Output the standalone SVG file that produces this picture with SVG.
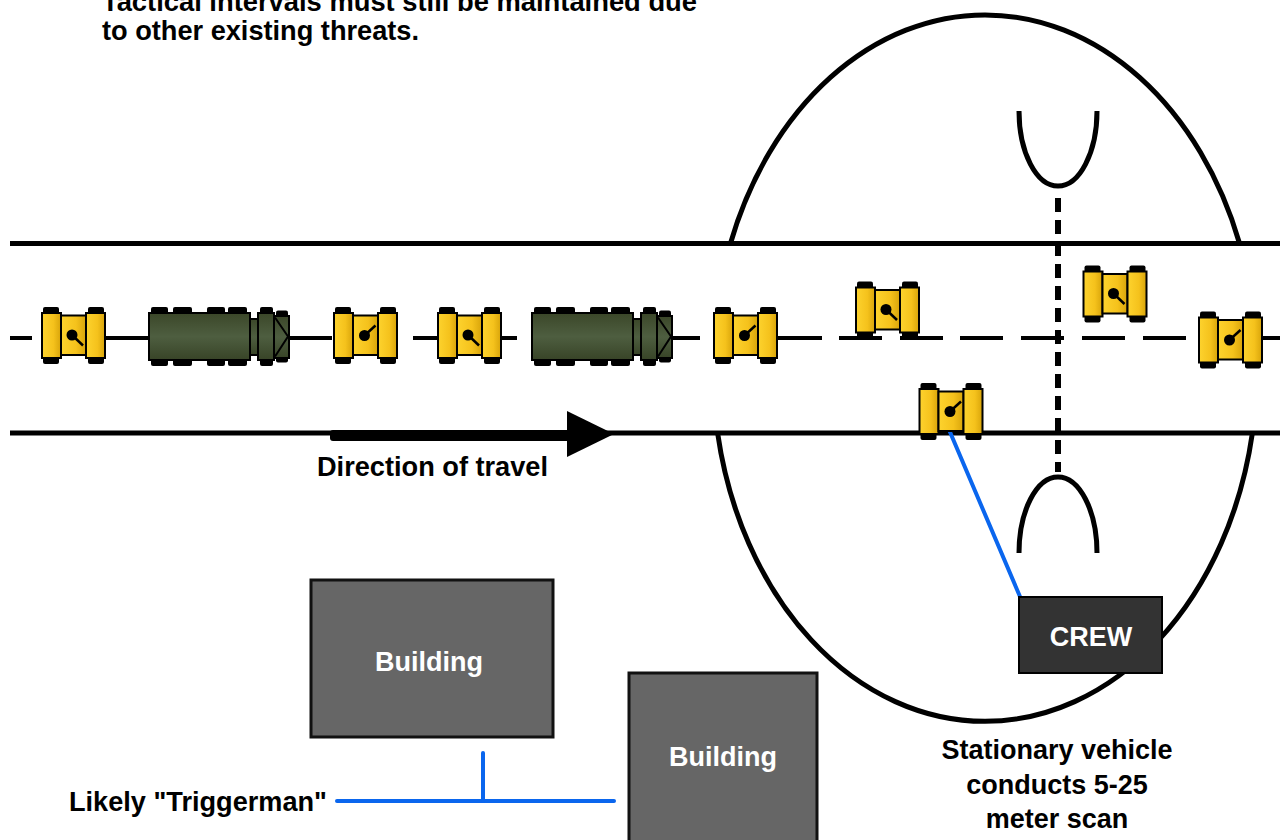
<svg xmlns="http://www.w3.org/2000/svg" xmlns:xlink="http://www.w3.org/1999/xlink" width="1280" height="840" viewBox="0 0 1280 840">
  <style>
    .txt { font-family: "Liberation Sans", Arial, sans-serif; font-weight: bold; font-size: 27px; fill: #000; }
    .ntxt { font-size: 28px; }
    .wtxt { fill: #fff; }
    .road { stroke: #000; stroke-width: 5; fill: none; }
    .cl { stroke: #000; stroke-width: 4; fill: none; }
    .arc { stroke: #000; stroke-width: 5; fill: none; }
    .blue { stroke: #0a66ee; stroke-width: 4; fill: none; stroke-linecap: round; }
    .bldg { fill: #666; stroke: #111; stroke-width: 3; }
    .wheel { fill: #000; }
    .trk { fill: url(#yl); stroke: #000; stroke-width: 2; }
    .tk { fill: url(#gr); stroke: #000; stroke-width: 2; }
  </style>
  <defs>
    <linearGradient id="yl" x1="0" y1="0" x2="1" y2="0">
      <stop offset="0" stop-color="#fdd32e"/>
      <stop offset="0.6" stop-color="#f5c21c"/>
      <stop offset="1" stop-color="#d8a40a"/>
    </linearGradient>
    <linearGradient id="gr" x1="0" y1="0" x2="0" y2="1">
      <stop offset="0" stop-color="#3b4729"/>
      <stop offset="0.5" stop-color="#4e5e40"/>
      <stop offset="1" stop-color="#384427"/>
    </linearGradient>
    <!-- small tracked vehicle, centred on 0,0 -->
    <g id="veh-base">
      <rect class="wheel" x="-30.5" y="-28.5" width="16" height="8" rx="2"/>
      <rect class="wheel" x="14.5" y="-28.5" width="16" height="8" rx="2"/>
      <rect class="wheel" x="-30.5" y="20.5" width="16" height="8" rx="2"/>
      <rect class="wheel" x="14.5" y="20.5" width="16" height="8" rx="2"/>
      <rect class="trk" x="-31.5" y="-22.5" width="19" height="45"/>
      <rect class="trk" x="-12.5" y="-20" width="25" height="39.5"/>
      <rect class="trk" x="12.5" y="-22.5" width="19" height="45"/>
    </g>
    <g id="veh-down">
      <use xlink:href="#veh-base"/>
      <line x1="-1.5" y1="-0.5" x2="9.5" y2="10" stroke="#000" stroke-width="2.5"/>
      <circle cx="-1.5" cy="-0.5" r="5.5" fill="#000"/>
    </g>
    <g id="veh-up">
      <use xlink:href="#veh-base"/>
      <line x1="-1" y1="0" x2="10" y2="-10" stroke="#000" stroke-width="2.5"/>
      <circle cx="-1" cy="0" r="5.5" fill="#000"/>
    </g>
    <!-- cargo truck, left edge at x=0, centred vertically on 0 -->
    <g id="truck">
      <rect class="wheel" x="2" y="-29.5" width="17" height="8" rx="2"/>
      <rect class="wheel" x="24" y="-29.5" width="19" height="8" rx="2"/>
      <rect class="wheel" x="58" y="-29.5" width="18" height="8" rx="2"/>
      <rect class="wheel" x="79" y="-29.5" width="19" height="8" rx="2"/>
      <rect class="wheel" x="2" y="21.5" width="17" height="8" rx="2"/>
      <rect class="wheel" x="24" y="21.5" width="19" height="8" rx="2"/>
      <rect class="wheel" x="58" y="21.5" width="18" height="8" rx="2"/>
      <rect class="wheel" x="79" y="21.5" width="19" height="8" rx="2"/>
      <rect class="wheel" x="111" y="-29.5" width="13" height="8" rx="2"/>
      <rect class="wheel" x="111" y="21.5" width="13" height="8" rx="2"/>
      <rect class="wheel" x="127" y="-26" width="12" height="7" rx="2"/>
      <rect class="wheel" x="127" y="19" width="12" height="7" rx="2"/>
      <rect class="tk" x="0" y="-23.5" width="101" height="47"/>
      <rect class="tk" x="101" y="-17.5" width="8" height="36"/>
      <rect class="tk" x="109" y="-23.5" width="16" height="47"/>
      <rect class="tk" x="125" y="-20.5" width="15" height="42"/>
      <path d="M126,-19 L139,0 L126,20" fill="none" stroke="#000" stroke-width="2"/>
    </g>
  </defs>

  <rect width="1280" height="840" fill="#fff"/>

  <!-- heading note -->
  <g id="note">
    <text class="txt ntxt" x="102" y="11" textLength="595" lengthAdjust="spacingAndGlyphs">Tactical intervals must still be maintained due</text>
    <text class="txt ntxt" x="102" y="40" textLength="317" lengthAdjust="spacingAndGlyphs">to other existing threats.</text>
  </g>

  <!-- 5-25 m scan area -->
  <g id="scan-area">
    <path class="arc" d="M730.6,243 A272,353 0 0 1 1239.4,243"/>
    <path class="arc" d="M717.6,433 A272,353 0 0 0 1252.4,433"/>
  </g>

  <!-- cross-road and its kerb curves -->
  <g id="cross-road">
    <path class="arc" d="M1019,111 A39,75 0 0 0 1097,111"/>
    <path class="arc" d="M1019,553 A39,76 0 0 1 1097,553"/>
    <line x1="1058" y1="198" x2="1058" y2="472" stroke="#000" stroke-width="6" stroke-dasharray="14 8"/>
  </g>

  <!-- road edges -->
  <g id="road">
    <line class="road" x1="10" y1="243.5" x2="1280" y2="243.5"/>
    <line class="road" x1="10" y1="433" x2="1280" y2="433"/>
  </g>

  <!-- centre line and links -->
  <g id="connectors">
    <path class="cl" d="M10,338 H32 M106,338 H149 M290,338 H332 M413,338 H437 M502,338 H517 M673,338 H700 M778,338 H822 M839,338 H882 M900,338 H943 M960,338 H1003 M1021,338 H1064 M1082,338 H1125 M1143,338 H1186 M1263,338 H1280"/>
    <line class="blue" x1="950" y1="432" x2="1021" y2="599"/>
    <line class="blue" x1="337" y1="801" x2="614" y2="801"/>
    <line class="blue" x1="483" y1="753" x2="483" y2="801"/>
  </g>

  <!-- convoy -->
  <g id="v1"><use xlink:href="#veh-down" x="73.5" y="335.5"/></g>
  <g id="t1"><use xlink:href="#truck" x="149" y="336.5"/></g>
  <g id="v2"><use xlink:href="#veh-up" x="365.5" y="335.5"/></g>
  <g id="v3"><use xlink:href="#veh-down" x="469.5" y="335.5"/></g>
  <g id="t2"><use xlink:href="#truck" x="532" y="336.5"/></g>
  <g id="v4"><use xlink:href="#veh-up" x="745.5" y="335.5"/></g>
  <g id="v5"><use xlink:href="#veh-down" x="887.5" y="310"/></g>
  <g id="v6"><use xlink:href="#veh-down" x="1115" y="294"/></g>
  <g id="v7"><use xlink:href="#veh-up" x="1230.5" y="340"/></g>
  <g id="v8"><use xlink:href="#veh-up" x="951" y="411.5"/></g>

  <!-- direction of travel -->
  <g id="direction">
    <rect x="330" y="430" width="240" height="11" rx="3" fill="#000"/>
    <polygon points="567,411 567,457 614,434" fill="#000"/>
    <text class="txt ntxt" x="317" y="476" textLength="231" lengthAdjust="spacingAndGlyphs">Direction of travel</text>
  </g>

  <!-- buildings -->
  <g id="building-1">
    <rect class="bldg" x="311" y="580" width="242" height="157"/>
    <text class="txt wtxt" x="429" y="671" text-anchor="middle">Building</text>
  </g>
  <g id="building-2">
    <rect class="bldg" x="629" y="673" width="188" height="180"/>
    <text class="txt wtxt" x="723" y="766" text-anchor="middle">Building</text>
  </g>

  <!-- CREW -->
  <g id="crew">
    <rect x="1019" y="597" width="143" height="76" fill="#333" stroke="#000" stroke-width="2"/>
    <text class="txt wtxt" x="1091" y="646" text-anchor="middle">CREW</text>
  </g>

  <g id="triggerman">
    <text class="txt ntxt" x="69" y="811" textLength="258" lengthAdjust="spacingAndGlyphs">Likely "Triggerman"</text>
  </g>

  <g id="scan-note">
    <text class="txt" x="1057" y="759" text-anchor="middle">Stationary vehicle</text>
    <text class="txt" x="1057" y="794" text-anchor="middle">conducts 5-25</text>
    <text class="txt" x="1057" y="828" text-anchor="middle">meter scan</text>
  </g>
</svg>
